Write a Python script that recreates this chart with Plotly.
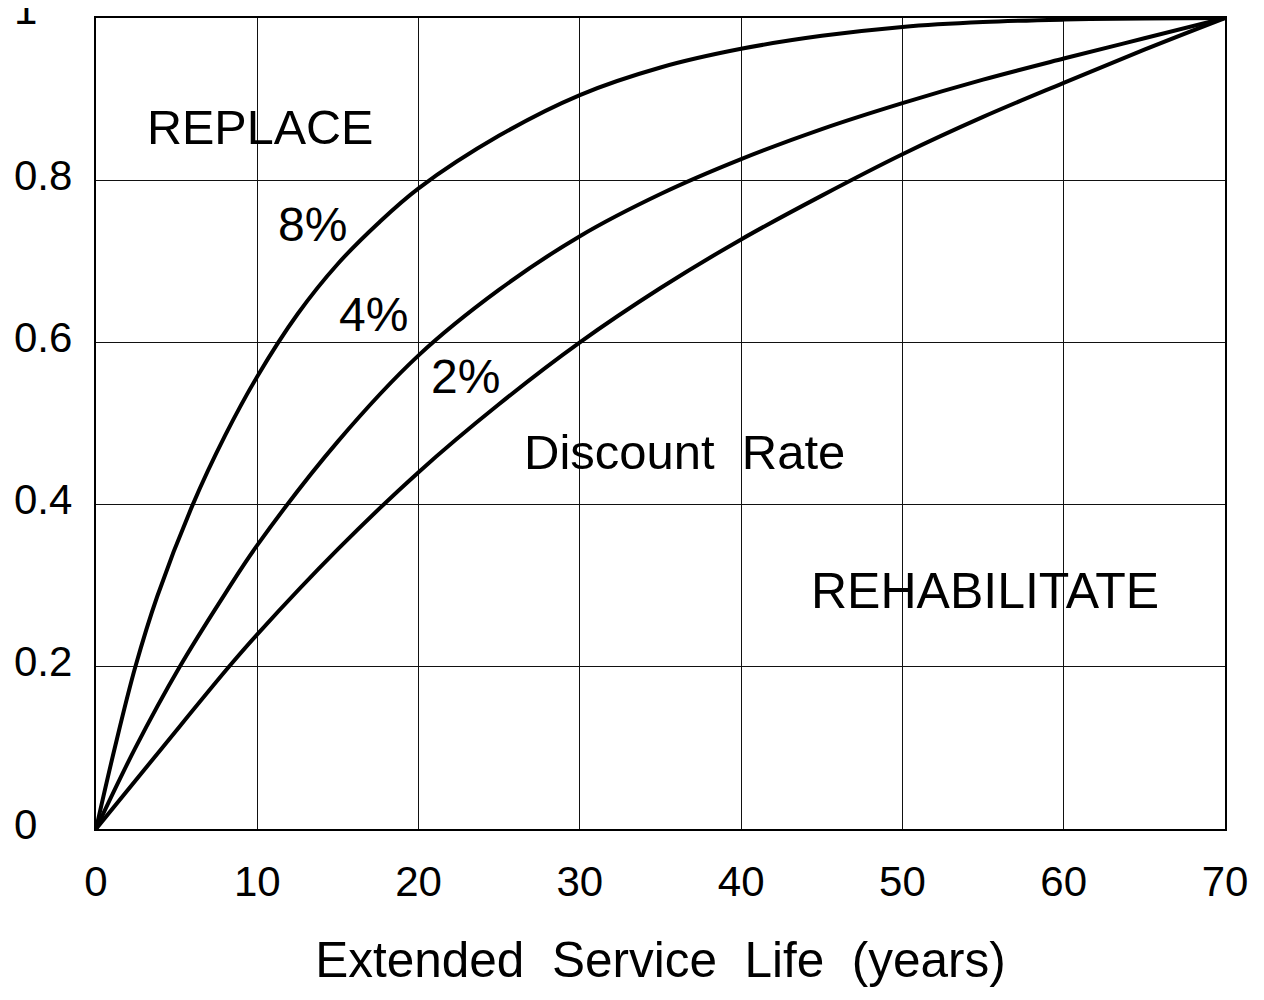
import plotly.graph_objects as go

# ---- data ----
x_8 = [0, 1.2, 2.44, 3.8, 6, 8, 10, 12.5, 15, 17.5, 20, 25, 30, 35, 40, 45, 50, 55, 60, 65, 70]
y_8 = [0, 0.103, 0.2, 0.287, 0.4, 0.485, 0.558, 0.635, 0.697, 0.747, 0.79, 0.855, 0.905, 0.939, 0.962, 0.978, 0.989, 0.995, 0.998, 0.9995, 1.0]

x_4 = [0, 2.44, 5.19, 8, 10, 15, 20, 25, 30, 35, 40, 45, 50, 55, 60, 65, 70]
y_4 = [0, 0.1, 0.2, 0.29, 0.35, 0.478, 0.584, 0.665, 0.731, 0.783, 0.826, 0.863, 0.895, 0.924, 0.95, 0.975, 1.0]

x_2 = [0, 4.1, 8.24, 10, 15, 20, 25, 30, 35, 40, 45, 50, 55, 60, 65, 70]
y_2 = [0, 0.1, 0.2, 0.24, 0.345, 0.44, 0.524, 0.6, 0.667, 0.727, 0.781, 0.832, 0.878, 0.92, 0.961, 1.0]

series = [("8%", x_8, y_8), ("4%", x_4, y_4), ("2%", x_2, y_2)]

x_ticks = [0, 10, 20, 30, 40, 50, 60, 70]
y_ticks = [0, 0.2, 0.4, 0.6, 0.8, 1]
y_tick_labels = ["0", "0.2", "0.4", "0.6", "0.8", "1"]

x_title = "Extended\u00a0 Service\u00a0 Life\u00a0 (years)"

# text, x, y, font size
labels = [
    ("REPLACE", 10.19, 0.865, 48.5),
    ("8%", 13.4, 0.745, 48),
    ("4%", 17.2, 0.635, 48),
    ("2%", 22.9, 0.558, 48),
    ("Discount\u00a0 Rate", 36.46, 0.465, 49),
    ("REHABILITATE", 55.1, 0.293, 50),
]

FONT = "Liberation Sans, Arial, Helvetica, sans-serif"

# page body has an 8px margin, so the figure starts at (8, 8)
W, H = 1248, 984
ML, MR, MT, MB = 88, 30, 8, 163
PW = W - ML - MR

fig = go.Figure()
for name, xs, ys in series:
    fig.add_trace(go.Scatter(
        x=xs, y=ys, mode="lines", name=name,
        line=dict(color="black", width=4, shape="spline", smoothing=1.0),
        showlegend=False, hoverinfo="skip",
    ))

annotations = []
for txt, ax, ay, fs in labels:
    annotations.append(dict(
        text=txt, x=ax, y=ay, xref="x", yref="y",
        showarrow=False, xanchor="center", yanchor="middle",
        font=dict(family=FONT, size=fs, color="black"),
    ))

for val, txt in zip(y_ticks, y_tick_labels):
    annotations.append(dict(
        text=txt, x=(4 - ML) / PW, y=val, xref="paper", yref="y",
        showarrow=False, xanchor="left", yanchor="middle",
        yshift=9 if val == 1 else 5,
        font=dict(family=FONT, size=42, color="black"),
    ))

fig.update_layout(
    width=W, height=H, autosize=False,
    margin=dict(l=ML, r=MR, t=MT, b=MB, pad=0),
    paper_bgcolor="white", plot_bgcolor="white",
    annotations=annotations,
    xaxis=dict(
        range=[0, 70], tickvals=x_ticks, ticktext=[str(v) for v in x_ticks],
        showgrid=True, gridcolor="#111", gridwidth=1.4, zeroline=False,
        showline=True, linecolor="black", linewidth=2, mirror=True,
        ticks="", ticklabelstandoff=15,
        tickfont=dict(family=FONT, size=42, color="black"),
        title=dict(text=x_title, font=dict(family=FONT, size=49.5, color="black"), standoff=38),
    ),
    yaxis=dict(
        range=[0, 1], tickvals=y_ticks, showticklabels=False,
        showgrid=True, gridcolor="#111", gridwidth=1.4, zeroline=False,
        showline=True, linecolor="black", linewidth=2, mirror=True, ticks="",
    ),
)

fig.write_html("out.html")
